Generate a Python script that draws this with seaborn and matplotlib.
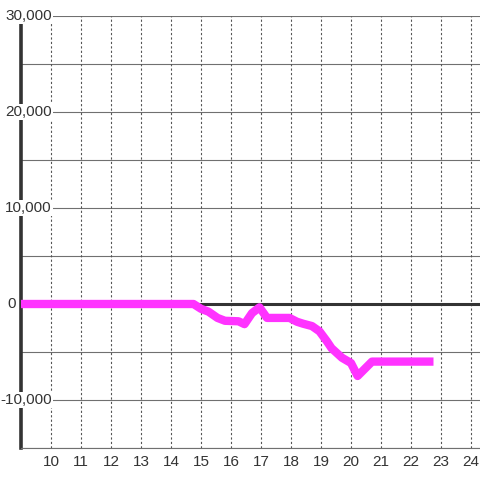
import numpy as np
import pandas as pd
import matplotlib
matplotlib.use("Agg")
import matplotlib.pyplot as plt
import matplotlib.transforms as mtransforms
import seaborn as sns

# data
hours = [9.0, 14.75, 15.0, 15.25, 15.55, 15.8, 16.25, 16.45, 16.7, 16.95,
         17.2, 17.95, 18.2, 18.4, 18.7, 18.95, 19.2, 19.35, 19.7, 20.0,
         20.22, 20.7, 22.75]
values = [0, 0, -500, -800, -1450, -1750, -1800, -2100, -950, -350,
          -1450, -1450, -1850, -2050, -2300, -2850, -3900, -4600, -5600, -6150,
          -7500, -6000, -6000]
x_ticks = list(range(10, 25))
y_label_values = [30000, 20000, 10000, 0, -10000]
y_label_texts = ["30,000", "20,000", "10,000", "0", "-10,000"]
y_grid = list(range(-15000, 30001, 5000))

df = pd.DataFrame({"hour": hours, "value": values})

sns.set_style("white")
plt.rcParams['font.family'] = ['Liberation Sans', 'DejaVu Sans']

fig = plt.figure(figsize=(4.8, 4.8), dpi=100)
ax = fig.add_axes([21 / 480, 32 / 480, 459 / 480, 432 / 480])

ax.set_xlim(9, 24.3)
ax.set_ylim(-15000, 30000)

# grid
for y in y_grid:
    if y != 0:
        ax.axhline(y, color="#707070", linewidth=0.8, zorder=1)
for x in x_ticks:
    ax.axvline(x, color="#555555", linewidth=0.8, linestyle=(0, (2, 2)), zorder=1)
ax.axhline(0, color="#333333", linewidth=2.2, zorder=1.6)

sns.lineplot(data=df, x="hour", y="value", ax=ax, color="#ff33ff",
             linewidth=6, zorder=3)
for line in ax.get_lines()[-1:]:
    line.set_solid_capstyle("butt")
    line.set_solid_joinstyle("round")

ax.set_xlabel("")
ax.set_ylabel("")
ax.set_xticks(x_ticks)
ax.tick_params(axis="x", length=0, pad=5, labelsize=11, labelcolor="#333333")
ax.set_yticks([])

for s in ["top", "right"]:
    ax.spines[s].set_visible(False)
ax.spines["bottom"].set_color("#707070")
ax.spines["bottom"].set_linewidth(0.8)
ax.spines["left"].set_color("#333333")
ax.spines["left"].set_linewidth(2.6)
ax.spines["left"].set_zorder(1.2)

trans = mtransforms.blended_transform_factory(ax.transAxes, ax.transData)
for v, t in zip(y_label_values, y_label_texts):
    xpos = (52 - 21) / 459 if v != 0 else (16 - 21) / 459
    ax.text(xpos, v, t, transform=trans, ha="right", va="center",
            fontsize=11, color="#333333", zorder=2.5, clip_on=False,
            bbox=dict(facecolor="white", edgecolor="none", pad=0.5))

fig.savefig("out.png", dpi=100)
